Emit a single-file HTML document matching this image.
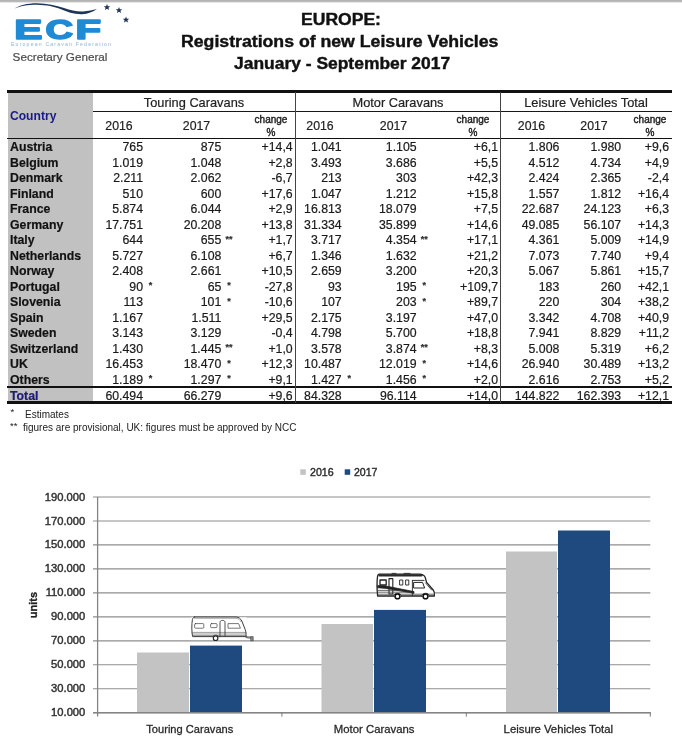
<!DOCTYPE html>
<html><head><meta charset="utf-8"><title>ECF Registrations</title>
<style>
html,body{margin:0;padding:0;background:#fff;}
#pg{filter:blur(0.4px);position:relative;width:682px;height:750px;overflow:hidden;background:#fff;font-family:"Liberation Sans",sans-serif;color:#1a1a1a;}
.abs{position:absolute;white-space:nowrap;}
.ttl{position:absolute;font-weight:bold;font-size:16px;line-height:20px;color:#111;-webkit-text-stroke:0.4px #111;white-space:nowrap;transform-origin:0 50%;}
.r{position:absolute;left:0;width:682px;height:15.5px;line-height:15.5px;font-size:12.3px;-webkit-text-stroke:0.2px #1a1a1a;}
.r span{position:absolute;top:0;white-space:nowrap;}
.c{left:10px;font-weight:bold;color:#111;}
.n{text-align:right;}
.st{transform:translateX(-50%);margin-top:0.4px;font-size:9px;line-height:11px;font-weight:bold;color:#333}
.hl{position:absolute;background:#111;}
.hd{position:absolute;-webkit-text-stroke:0.2px #222;font-size:12.3px;white-space:nowrap;transform:translateX(-50%);color:#222;}
.ch{position:absolute;font-size:10px;line-height:13.0px;-webkit-text-stroke:0.4px #222;text-align:center;white-space:nowrap;transform:translateX(-50%);color:#222;}
</style></head><body><div id="pg">

<div class="abs" style="left:0;top:0;width:682px;height:3.2px;background:linear-gradient(#b0b0b0,#bcbcbc 55%,#fff);"></div>
<svg class="abs" style="left:0;top:0" width="140" height="70" viewBox="0 0 140 70">
<path d="M14.5 8.6 C19 5.4, 27 3.2, 37 3.2 C47 3.3, 56 5.6, 64 8 C71 10.2, 76 11.6, 83 11.4 C88 11.2, 93 10.2, 97 9 C93 11.8, 88 14, 82 14.2 C74 14.4, 67 11.8, 61 9.2 C54 6.4, 47 4.9, 37 4.7 C27 4.7, 20 6.2, 14.5 8.6 Z" fill="#1d3557"/>
<g fill="#1d3557">
<polygon points="107,4 107.9,6.3 110.3,6.3 108.4,7.8 109.1,10.1 107,8.7 104.9,10.1 105.6,7.8 103.7,6.3 106.1,6.3"/>
<polygon points="119,7 119.9,9.3 122.3,9.3 120.4,10.8 121.1,13.1 119,11.7 116.9,13.1 117.6,10.8 115.7,9.3 118.1,9.3"/>
<polygon points="126,16.5 126.9,18.8 129.3,18.8 127.4,20.3 128.1,22.6 126,21.2 123.9,22.6 124.6,20.3 122.7,18.8 125.1,18.8"/>
</g>
<g font-family="Liberation Sans, sans-serif" font-weight="bold" font-size="27" fill="#1f8ad6" stroke="#1f8ad6" stroke-width="1.6" stroke-linejoin="round">
<text y="39.1"><tspan x="14.3" textLength="28.2" lengthAdjust="spacingAndGlyphs">E</tspan><tspan x="45.6" textLength="27.6" lengthAdjust="spacingAndGlyphs">C</tspan><tspan x="75.6" textLength="25.6" lengthAdjust="spacingAndGlyphs">F</tspan></text>
</g>
<text x="11" y="45.8" font-family="Liberation Sans, sans-serif" font-size="5.2" fill="#8fb4d6" textLength="100" lengthAdjust="spacing">European Caravan Federation</text>
<text x="12.6" y="61.1" font-family="Liberation Sans, sans-serif" font-size="11.7" fill="#4a4a4a" stroke="#4a4a4a" stroke-width="0.2">Secretary General</text>
</svg>

<div class="ttl" id="t1" style="top:10px;left:300.7px;transform:scaleX(1.097)">EUROPE:</div>
<div class="ttl" id="t2" style="top:32px;left:181.2px;transform:scaleX(1.105)">Registrations of new Leisure Vehicles</div>
<div class="ttl" id="t3" style="top:54px;left:234.2px;transform:scaleX(1.09)">January - September 2017</div>
<div class="abs" style="left:8px;top:92px;width:85px;height:311px;background:#c1c1c1;"></div>
<div class="hl" style="left:7px;top:90.3px;width:664.9px;height:2.6px;"></div>
<div class="hl" style="left:93px;top:110.5px;width:578.9px;height:1.4px;background:#181818"></div>
<div class="hl" style="left:7px;top:137.7px;width:664.9px;height:1.6px;"></div>
<div class="hl" style="left:7px;top:386.2px;width:664.9px;height:1.6px;"></div>
<div class="hl" style="left:7px;top:401px;width:664.9px;height:2.5px;"></div>
<div class="hl" style="left:295.2px;top:92px;width:1px;height:311px;background:#444"></div>
<div class="hl" style="left:500px;top:92px;width:1px;height:311px;background:#444"></div>
<div class="abs" style="left:10px;top:109px;font-size:12.1px;font-weight:bold;color:#1a1a8a;line-height:15px">Country</div>
<div class="hd" style="left:194px;top:94.5px;line-height:15px;font-size:12.8px">Touring Caravans</div>
<div class="hd" style="left:398px;top:94.5px;line-height:15px;font-size:12.8px">Motor Caravans</div>
<div class="hd" style="left:586px;top:94.5px;line-height:15px;font-size:12.8px">Leisure Vehicles Total</div>
<div class="hd" style="left:119px;top:119px;line-height:15px">2016</div>
<div class="hd" style="left:196.5px;top:119px;line-height:15px">2017</div>
<div class="hd" style="left:320px;top:119px;line-height:15px">2016</div>
<div class="hd" style="left:393.5px;top:119px;line-height:15px">2017</div>
<div class="hd" style="left:531.5px;top:119px;line-height:15px">2016</div>
<div class="hd" style="left:594px;top:119px;line-height:15px">2017</div>
<div class="ch" style="left:271px;top:112.8px">change<br>%</div>
<div class="ch" style="left:473px;top:112.8px">change<br>%</div>
<div class="ch" style="left:650px;top:112.8px">change<br>%</div>
<div class="r" style="top:140.2px"><span class="c">Austria</span><span class="n" style="right:539px">765</span><span class="n" style="right:460.7px">875</span><span class="n" style="right:389.3px">+14,4</span><span class="n" style="right:340.3px">1.041</span><span class="n" style="right:265.4px">1.105</span><span class="n" style="right:184px">+6,1</span><span class="n" style="right:122.70000000000005px">1.806</span><span class="n" style="right:60.799999999999955px">1.980</span><span class="n" style="right:13px">+9,6</span></div>
<div class="r" style="top:155.7px"><span class="c">Belgium</span><span class="n" style="right:539px">1.019</span><span class="n" style="right:460.7px">1.048</span><span class="n" style="right:389.3px">+2,8</span><span class="n" style="right:340.3px">3.493</span><span class="n" style="right:265.4px">3.686</span><span class="n" style="right:184px">+5,5</span><span class="n" style="right:122.70000000000005px">4.512</span><span class="n" style="right:60.799999999999955px">4.734</span><span class="n" style="right:13px">+4,9</span></div>
<div class="r" style="top:171.2px"><span class="c">Denmark</span><span class="n" style="right:539px">2.211</span><span class="n" style="right:460.7px">2.062</span><span class="n" style="right:389.3px">-6,7</span><span class="n" style="right:340.3px">213</span><span class="n" style="right:265.4px">303</span><span class="n" style="right:184px">+42,3</span><span class="n" style="right:122.70000000000005px">2.424</span><span class="n" style="right:60.799999999999955px">2.365</span><span class="n" style="right:13px">-2,4</span></div>
<div class="r" style="top:186.7px"><span class="c">Finland</span><span class="n" style="right:539px">510</span><span class="n" style="right:460.7px">600</span><span class="n" style="right:389.3px">+17,6</span><span class="n" style="right:340.3px">1.047</span><span class="n" style="right:265.4px">1.212</span><span class="n" style="right:184px">+15,8</span><span class="n" style="right:122.70000000000005px">1.557</span><span class="n" style="right:60.799999999999955px">1.812</span><span class="n" style="right:13px">+16,4</span></div>
<div class="r" style="top:202.2px"><span class="c">France</span><span class="n" style="right:539px">5.874</span><span class="n" style="right:460.7px">6.044</span><span class="n" style="right:389.3px">+2,9</span><span class="n" style="right:340.3px">16.813</span><span class="n" style="right:265.4px">18.079</span><span class="n" style="right:184px">+7,5</span><span class="n" style="right:122.70000000000005px">22.687</span><span class="n" style="right:60.799999999999955px">24.123</span><span class="n" style="right:13px">+6,3</span></div>
<div class="r" style="top:217.7px"><span class="c">Germany</span><span class="n" style="right:539px">17.751</span><span class="n" style="right:460.7px">20.208</span><span class="n" style="right:389.3px">+13,8</span><span class="n" style="right:340.3px">31.334</span><span class="n" style="right:265.4px">35.899</span><span class="n" style="right:184px">+14,6</span><span class="n" style="right:122.70000000000005px">49.085</span><span class="n" style="right:60.799999999999955px">56.107</span><span class="n" style="right:13px">+14,3</span></div>
<div class="r" style="top:233.2px"><span class="c">Italy</span><span class="n" style="right:539px">644</span><span class="n" style="right:460.7px">655</span><span class="st" style="left:228.9px">**</span><span class="n" style="right:389.3px">+1,7</span><span class="n" style="right:340.3px">3.717</span><span class="n" style="right:265.4px">4.354</span><span class="st" style="left:424.2px">**</span><span class="n" style="right:184px">+17,1</span><span class="n" style="right:122.70000000000005px">4.361</span><span class="n" style="right:60.799999999999955px">5.009</span><span class="n" style="right:13px">+14,9</span></div>
<div class="r" style="top:248.7px"><span class="c">Netherlands</span><span class="n" style="right:539px">5.727</span><span class="n" style="right:460.7px">6.108</span><span class="n" style="right:389.3px">+6,7</span><span class="n" style="right:340.3px">1.346</span><span class="n" style="right:265.4px">1.632</span><span class="n" style="right:184px">+21,2</span><span class="n" style="right:122.70000000000005px">7.073</span><span class="n" style="right:60.799999999999955px">7.740</span><span class="n" style="right:13px">+9,4</span></div>
<div class="r" style="top:264.2px"><span class="c">Norway</span><span class="n" style="right:539px">2.408</span><span class="n" style="right:460.7px">2.661</span><span class="n" style="right:389.3px">+10,5</span><span class="n" style="right:340.3px">2.659</span><span class="n" style="right:265.4px">3.200</span><span class="n" style="right:184px">+20,3</span><span class="n" style="right:122.70000000000005px">5.067</span><span class="n" style="right:60.799999999999955px">5.861</span><span class="n" style="right:13px">+15,7</span></div>
<div class="r" style="top:279.7px"><span class="c">Portugal</span><span class="n" style="right:539px">90</span><span class="st" style="left:150.6px">*</span><span class="n" style="right:460.7px">65</span><span class="st" style="left:228.9px">*</span><span class="n" style="right:389.3px">-27,8</span><span class="n" style="right:340.3px">93</span><span class="n" style="right:265.4px">195</span><span class="st" style="left:424.2px">*</span><span class="n" style="right:184px">+109,7</span><span class="n" style="right:122.70000000000005px">183</span><span class="n" style="right:60.799999999999955px">260</span><span class="n" style="right:13px">+42,1</span></div>
<div class="r" style="top:295.2px"><span class="c">Slovenia</span><span class="n" style="right:539px">113</span><span class="n" style="right:460.7px">101</span><span class="st" style="left:228.9px">*</span><span class="n" style="right:389.3px">-10,6</span><span class="n" style="right:340.3px">107</span><span class="n" style="right:265.4px">203</span><span class="st" style="left:424.2px">*</span><span class="n" style="right:184px">+89,7</span><span class="n" style="right:122.70000000000005px">220</span><span class="n" style="right:60.799999999999955px">304</span><span class="n" style="right:13px">+38,2</span></div>
<div class="r" style="top:310.7px"><span class="c">Spain</span><span class="n" style="right:539px">1.167</span><span class="n" style="right:460.7px">1.511</span><span class="n" style="right:389.3px">+29,5</span><span class="n" style="right:340.3px">2.175</span><span class="n" style="right:265.4px">3.197</span><span class="n" style="right:184px">+47,0</span><span class="n" style="right:122.70000000000005px">3.342</span><span class="n" style="right:60.799999999999955px">4.708</span><span class="n" style="right:13px">+40,9</span></div>
<div class="r" style="top:326.2px"><span class="c">Sweden</span><span class="n" style="right:539px">3.143</span><span class="n" style="right:460.7px">3.129</span><span class="n" style="right:389.3px">-0,4</span><span class="n" style="right:340.3px">4.798</span><span class="n" style="right:265.4px">5.700</span><span class="n" style="right:184px">+18,8</span><span class="n" style="right:122.70000000000005px">7.941</span><span class="n" style="right:60.799999999999955px">8.829</span><span class="n" style="right:13px">+11,2</span></div>
<div class="r" style="top:341.7px"><span class="c">Switzerland</span><span class="n" style="right:539px">1.430</span><span class="n" style="right:460.7px">1.445</span><span class="st" style="left:228.9px">**</span><span class="n" style="right:389.3px">+1,0</span><span class="n" style="right:340.3px">3.578</span><span class="n" style="right:265.4px">3.874</span><span class="st" style="left:424.2px">**</span><span class="n" style="right:184px">+8,3</span><span class="n" style="right:122.70000000000005px">5.008</span><span class="n" style="right:60.799999999999955px">5.319</span><span class="n" style="right:13px">+6,2</span></div>
<div class="r" style="top:357.2px"><span class="c">UK</span><span class="n" style="right:539px">16.453</span><span class="n" style="right:460.7px">18.470</span><span class="st" style="left:228.9px">*</span><span class="n" style="right:389.3px">+12,3</span><span class="n" style="right:340.3px">10.487</span><span class="n" style="right:265.4px">12.019</span><span class="st" style="left:424.2px">*</span><span class="n" style="right:184px">+14,6</span><span class="n" style="right:122.70000000000005px">26.940</span><span class="n" style="right:60.799999999999955px">30.489</span><span class="n" style="right:13px">+13,2</span></div>
<div class="r" style="top:372.7px"><span class="c">Others</span><span class="n" style="right:539px">1.189</span><span class="st" style="left:150.6px">*</span><span class="n" style="right:460.7px">1.297</span><span class="st" style="left:228.9px">*</span><span class="n" style="right:389.3px">+9,1</span><span class="n" style="right:340.3px">1.427</span><span class="st" style="left:349.3px">*</span><span class="n" style="right:265.4px">1.456</span><span class="st" style="left:424.2px">*</span><span class="n" style="right:184px">+2,0</span><span class="n" style="right:122.70000000000005px">2.616</span><span class="n" style="right:60.799999999999955px">2.753</span><span class="n" style="right:13px">+5,2</span></div>
<div class="r" style="top:388.8px"><span class="c" style="color:#1a1a8a">Total</span><span class="n" style="right:539px">60.494</span><span class="n" style="right:460.7px">66.279</span><span class="n" style="right:389.3px">+9,6</span><span class="n" style="right:340.3px">84.328</span><span class="n" style="right:265.4px">96.114</span><span class="n" style="right:184px">+14,0</span><span class="n" style="right:122.70000000000005px">144.822</span><span class="n" style="right:60.799999999999955px">162.393</span><span class="n" style="right:13px">+12,1</span></div>
<div class="abs" style="left:10.5px;top:406.3px;font-size:9.5px;line-height:12px;color:#222">*</div>
<div class="abs" style="left:25px;top:407.5px;font-size:10px;line-height:13.0px;color:#222">Estimates</div>
<div class="abs" style="left:10px;top:419.8px;font-size:9.5px;line-height:12px;color:#222">**</div>
<div class="abs" style="left:23px;top:421px;font-size:10px;line-height:13.0px;color:#222">figures are provisional, UK: figures must be approved by NCC</div>
<svg class="abs" style="left:0;top:440px" width="682" height="310" viewBox="0 440 682 310" font-family="Liberation Sans, sans-serif">
<line x1="93" x2="650.3" y1="497.0" y2="497.0" stroke="#8e8e8e" stroke-width="1.15"/>
<text x="85.3" y="500.5" text-anchor="end" font-size="11.2" fill="#333" stroke="#333" stroke-width="0.45">190.000</text>
<line x1="93" x2="650.3" y1="521.0" y2="521.0" stroke="#8e8e8e" stroke-width="1.15"/>
<text x="85.3" y="524.5" text-anchor="end" font-size="11.2" fill="#333" stroke="#333" stroke-width="0.45">170.000</text>
<line x1="93" x2="650.3" y1="544.9" y2="544.9" stroke="#8e8e8e" stroke-width="1.15"/>
<text x="85.3" y="548.4" text-anchor="end" font-size="11.2" fill="#333" stroke="#333" stroke-width="0.45">150.000</text>
<line x1="93" x2="650.3" y1="568.9" y2="568.9" stroke="#8e8e8e" stroke-width="1.15"/>
<text x="85.3" y="572.4" text-anchor="end" font-size="11.2" fill="#333" stroke="#333" stroke-width="0.45">130.000</text>
<line x1="93" x2="650.3" y1="592.8" y2="592.8" stroke="#8e8e8e" stroke-width="1.15"/>
<text x="85.3" y="596.3" text-anchor="end" font-size="11.2" fill="#333" stroke="#333" stroke-width="0.45">110.000</text>
<line x1="93" x2="650.3" y1="616.8" y2="616.8" stroke="#8e8e8e" stroke-width="1.15"/>
<text x="85.3" y="620.3" text-anchor="end" font-size="11.2" fill="#333" stroke="#333" stroke-width="0.45">90.000</text>
<line x1="93" x2="650.3" y1="640.8" y2="640.8" stroke="#8e8e8e" stroke-width="1.15"/>
<text x="85.3" y="644.3" text-anchor="end" font-size="11.2" fill="#333" stroke="#333" stroke-width="0.45">70.000</text>
<line x1="93" x2="650.3" y1="664.7" y2="664.7" stroke="#8e8e8e" stroke-width="1.15"/>
<text x="85.3" y="668.2" text-anchor="end" font-size="11.2" fill="#333" stroke="#333" stroke-width="0.45">50.000</text>
<line x1="93" x2="650.3" y1="688.7" y2="688.7" stroke="#8e8e8e" stroke-width="1.15"/>
<text x="85.3" y="692.2" text-anchor="end" font-size="11.2" fill="#333" stroke="#333" stroke-width="0.45">30.000</text>
<line x1="93" x2="650.3" y1="712.6" y2="712.6" stroke="#8e8e8e" stroke-width="1.15"/>
<text x="85.3" y="716.1" text-anchor="end" font-size="11.2" fill="#333" stroke="#333" stroke-width="0.45">10.000</text>
<line x1="97.6" x2="97.6" y1="497" y2="716.5" stroke="#858585" stroke-width="1.3"/>
<rect x="137" y="652.5" width="52" height="60.1" fill="#c3c3c3"/>
<rect x="190" y="645.6" width="52" height="67.0" fill="#1f4a80"/>
<rect x="321.5" y="624.0" width="51.5" height="88.6" fill="#c3c3c3"/>
<rect x="374" y="609.9" width="52" height="102.8" fill="#1f4a80"/>
<rect x="506" y="551.5" width="51" height="161.1" fill="#c3c3c3"/>
<rect x="558" y="530.5" width="52" height="182.2" fill="#1f4a80"/>
<line x1="93" x2="650.8" y1="712.64" y2="712.64" stroke="#858585" stroke-width="1.5"/>
<line x1="281.9" x2="281.9" y1="712.64" y2="716.64" stroke="#7a7a7a" stroke-width="1"/>
<line x1="466.3" x2="466.3" y1="712.64" y2="716.64" stroke="#7a7a7a" stroke-width="1"/>
<line x1="650.3" x2="650.3" y1="712.64" y2="716.64" stroke="#7a7a7a" stroke-width="1"/>
<text x="146.3" y="733" font-size="11.6" fill="#2a2a2a" stroke="#2a2a2a" stroke-width="0.3" textLength="87" lengthAdjust="spacingAndGlyphs">Touring Caravans</text>
<text x="333.8" y="733" font-size="11.6" fill="#2a2a2a" stroke="#2a2a2a" stroke-width="0.3" textLength="80.7" lengthAdjust="spacingAndGlyphs">Motor Caravans</text>
<text x="503.6" y="733" font-size="11.6" fill="#2a2a2a" stroke="#2a2a2a" stroke-width="0.3" textLength="109.4" lengthAdjust="spacingAndGlyphs">Leisure Vehicles Total</text>
<text transform="translate(37.4,605) rotate(-90)" text-anchor="middle" font-size="11" font-weight="bold" fill="#222" stroke="#222" stroke-width="0.3">units</text>
<g id="caravan" fill="none" stroke="#3c3c3c" stroke-width="0.8" stroke-linejoin="round" stroke-linecap="round">
<rect x="191.5" y="617.3" width="55" height="19.5" fill="#fff" stroke="none"/>
<path d="M194.5 617 L236 617 C239 617.2 240.5 618.6 241.8 621 L245.2 629.5 C246 632 246.2 634 246 636.6 L192.6 636.6 C191.6 632 191.6 624 192.4 619.6 C192.8 618 193.4 617.2 194.5 617 Z" fill="#fff" stroke-width="1"/>
<path d="M194.5 618.3 L236 618.3 C238.5 618.5 239.8 619.6 240.8 621.6" stroke-width="0.6" stroke="#777"/>
<path d="M192 632.4 L246 632.4 M192.2 634 L246 634 M192.4 635.5 L246 635.5" stroke-width="0.6" stroke="#5a5a5a"/>
<rect x="194.6" y="623.6" width="9.2" height="4.6" rx="0.9" stroke-width="0.7"/>
<rect x="210.6" y="623.6" width="6.4" height="4" rx="0.8" stroke-width="0.7"/>
<path d="M228.4 623.6 L238.6 623.6 L240.4 628.2 L228.4 628.2 Z" stroke-width="0.7"/>
<path d="M220 636.4 L220 622.6 C220 621 221 620.4 222.5 620.4 C224 620.4 225 621 225 622.6 L225 636.4" stroke-width="0.9"/>
<path d="M246 637.6 L252 638.4 M246 636.6 L251.2 637.2" stroke-width="0.8"/>
<rect x="251" y="636.6" width="2.2" height="4.2" fill="#888" stroke-width="0.6"/>
<path d="M212.2 636.8 C212.4 634.6 218.8 634.6 219 636.8" fill="#fff" stroke-width="0.8"/>
<circle cx="215.6" cy="638.2" r="2.3" fill="#fff" stroke="#222" stroke-width="1.1"/>
</g>
<g id="motorhome" fill="none" stroke="#222" stroke-width="1" stroke-linejoin="round" stroke-linecap="round">

<path d="M379 574.2 L420 574.2 C423.5 574.4 425.4 576.4 425.8 579.6 L426.6 582.4 L433.4 590.2 C434.4 591.6 434.6 593.6 434.4 596 L377.6 596 C377 590 377 580 377.6 576 C377.8 574.8 378.2 574.3 379 574.2 Z" fill="#fff" stroke-width="1.3"/>
<path d="M379.5 575.4 L421.5 575.4" stroke-width="2.3" stroke="#2a2a2a"/>
<path d="M392 573.4 L396 573.4 M404 573.4 L410 573.4" stroke-width="1" stroke="#333"/>
<rect x="380" y="580" width="6.2" height="5" stroke-width="1.3"/>
<rect x="389" y="578.6" width="3.8" height="15.4" stroke-width="1.1"/>
<rect x="400" y="580" width="2.8" height="5" stroke-width="0.9"/>
<rect x="406" y="580" width="2.8" height="5" stroke-width="0.9"/>
<path d="M414 582.4 L422.6 582.4 L424.6 588 L414 588 Z" stroke-width="1"/>
<path d="M412.4 580.4 L412.4 595.6 M412.4 580.4 L424 580.4" stroke-width="0.9"/>
<path d="M425.6 583 L431.6 590" stroke-width="0.8"/>
<path d="M377.8 585.4 L386 586 L414 591.6 L414 593.4 L386 588.4 L377.8 587.8 Z" fill="#222" stroke-width="0.7"/>
<path d="M377.8 590.4 L402 590.4 M377.8 592.2 L411 592.2 M377.8 594.2 L434 594.2" stroke-width="0.8" stroke="#444"/>
<path d="M393.6 596.2 C393.8 592.2 401.2 592.2 401.4 596.2" fill="#fff" stroke-width="0.9"/>
<path d="M421.6 596.2 C421.8 592.2 429.2 592.2 429.4 596.2" fill="#fff" stroke-width="0.9"/>
<circle cx="397.5" cy="596.4" r="2.4" fill="#fff" stroke="#111" stroke-width="1.5"/>
<circle cx="425.5" cy="596.4" r="2.4" fill="#fff" stroke="#111" stroke-width="1.5"/>
</g>
<rect x="300.3" y="469.3" width="5.5" height="5.5" fill="#c3c3c3"/><text x="310" y="476" font-size="11.6" fill="#2a2a2a" stroke="#2a2a2a" stroke-width="0.4" textLength="23.7" lengthAdjust="spacingAndGlyphs">2016</text>
<rect x="344.7" y="469.3" width="5.5" height="5.5" fill="#1f4a80"/><text x="354" y="476" font-size="11.6" fill="#2a2a2a" stroke="#2a2a2a" stroke-width="0.4" textLength="23.5" lengthAdjust="spacingAndGlyphs">2017</text>
</svg>
</div></body></html>
